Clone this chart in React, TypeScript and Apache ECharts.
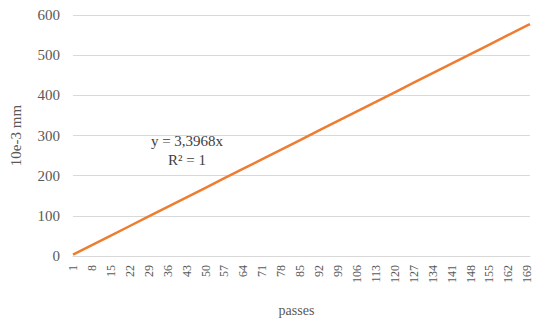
import React, { useEffect, useRef } from "react";
import * as echarts from "echarts";

const passes = [1, 8, 15, 22, 29, 36, 43, 50, 57, 64, 71, 78, 85, 92, 99, 106, 113, 120, 127, 134, 141, 148, 155, 162, 169, 170];
const deflection = [3.4, 27.2, 51.0, 74.7, 98.5, 122.3, 146.1, 169.8, 193.6, 217.4, 241.2, 264.9, 288.7, 312.5, 336.3, 360.1, 383.8, 407.6, 431.4, 455.2, 479.0, 502.7, 526.5, 550.3, 574.1, 577.5];
const trendText = ["y = 3,3968x", "R² = 1"];

export default function App() {
  const ref = useRef<HTMLDivElement>(null);
  useEffect(() => {
    if (!ref.current) return;
    const chart = echarts.init(ref.current, null, { renderer: "svg" });
    const font = "'Liberation Serif', 'DejaVu Serif', serif";
    chart.setOption({
      animation: false,
      backgroundColor: "#ffffff",
      grid: { left: 65, right: 4, top: 15, bottom: 60 },
      xAxis: {
        type: "value",
        min: 1,
        max: 170,
        interval: 7,
        name: "passes",
        nameLocation: "middle",
        nameGap: 47,
        nameTextStyle: { fontFamily: font, fontSize: 14, color: "#595959", padding: [0, 10, 0, 0] },
        axisLine: { show: true, lineStyle: { color: "#d9d9d9", width: 1 } },
        axisTick: { show: false },
        splitLine: { show: false },
        axisLabel: {
          rotate: 90,
          showMaxLabel: false,
          fontFamily: font,
          fontSize: 12,
          color: "#595959",
          margin: 9,
        },
      },
      yAxis: {
        type: "value",
        min: 0,
        max: 600,
        interval: 100,
        name: "10e-3 mm",
        nameLocation: "middle",
        nameGap: 50,
        nameTextStyle: { fontFamily: font, fontSize: 15, color: "#595959" },
        axisLine: { show: false },
        axisTick: { show: false },
        splitLine: { lineStyle: { color: "#d9d9d9", width: 1 } },
        axisLabel: { fontFamily: font, fontSize: 15, color: "#595959", margin: 13 },
      },
      series: [
        {
          type: "line",
          data: passes.map((p, i) => [p, deflection[i]]),
          showSymbol: false,
          lineStyle: { color: "#ED7D31", width: 2.5 },
          itemStyle: { color: "#ED7D31" },
        },
      ],
      graphic: [
        {
          type: "text",
          x: 187,
          y: 150,
          style: {
            text: trendText.join("\n"),
            fontFamily: font,
            fontSize: 15,
            lineHeight: 19,
            fill: "#404040",
            textAlign: "center",
            textVerticalAlign: "middle",
          },
        },
      ],
    });
    return () => chart.dispose();
  }, []);
  return <div ref={ref} style={{ position: "fixed", left: 0, top: 0, width: 534, height: 322 }} />;
}
